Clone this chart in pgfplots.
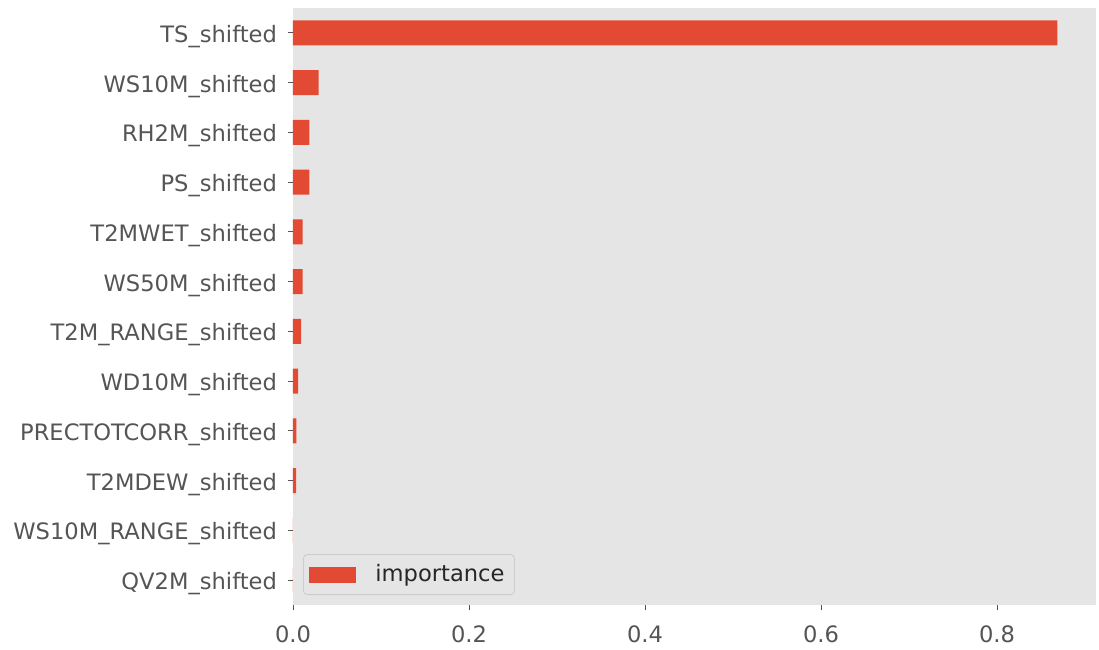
\documentclass[border=0pt]{standalone}
\usepackage{pgfplots}
\pgfplotsset{compat=1.18}
\usepackage{fontspec}
\setmainfont{DejaVu Sans}
\definecolor{barred}{HTML}{E24A33}
\definecolor{bggray}{HTML}{E5E5E5}
\definecolor{tickgray}{HTML}{555555}
\begin{document}
\begin{tikzpicture}
\useasboundingbox (-146.5pt,-22pt) rectangle (403pt,302.5pt);
\begin{axis}[
  at={(0,0)}, anchor=south west,
  scale only axis,
  width=401.5pt, height=298.5pt,
  xbar, bar width=0.5,
  xmin=0, xmax=0.9125,
  ymin=-0.5, ymax=11.5,
  axis background/.style={fill=bggray},
  axis line style={draw=none},
  ytick={0,...,11},
  yticklabels={QV2M\_shifted, WS10M\_RANGE\_shifted, T2MDEW\_shifted, PRECTOTCORR\_shifted, WD10M\_shifted, T2M\_RANGE\_shifted, WS50M\_shifted, T2MWET\_shifted, PS\_shifted, RH2M\_shifted, WS10M\_shifted, TS\_shifted},
  xtick={0,0.2,0.4,0.6,0.8},
  xticklabel style={yshift=-4.5pt, /pgf/number format/.cd, fixed, fixed zerofill, precision=1},
  /pgf/number format/assume math mode=true,
  tick label style={font=\fontsize{11.3}{13}\selectfont, text=tickgray},
  tick align=outside,
  major tick length=2.5pt,
  tick style={draw=tickgray, line width=0.4pt},
  xtick pos=bottom, ytick pos=left,
  yticklabel style={xshift=-2pt, yshift=-1.8pt},
  legend style={at={(0.0125,0.0167)}, anchor=south west, draw=white!80!black, fill=bggray, rounded corners=2pt, font=\fontsize{11.3}{13}\selectfont, text=black!85, inner xsep=3pt, inner ysep=3pt},
  legend cell align=left,
  legend image code/.code={\fill[barred, sharp corners] (0pt,-4pt) rectangle (23.5pt,4pt); \path (31pt,0pt);},
]
\addplot[fill=barred, draw=none] coordinates {
  (0,0) (0,1) (0.0036,2) (0.0038,3) (0.0057,4) (0.0091,5) (0.0110,6) (0.0110,7) (0.0185,8) (0.0185,9) (0.0292,10) (0.8685,11)
};
\addlegendentry{importance}
\end{axis}
\end{tikzpicture}
\end{document}
